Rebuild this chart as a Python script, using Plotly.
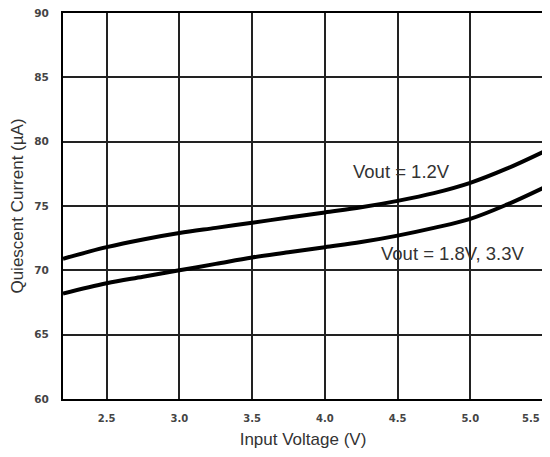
import plotly.graph_objects as go

vin = [2.2, 2.5, 2.75, 3.0, 3.25, 3.5, 3.75, 4.0, 4.25, 4.5, 4.75, 5.0, 5.25, 5.5]
iq_12 = [70.9, 71.8, 72.4, 72.9, 73.3, 73.7, 74.1, 74.5, 74.9, 75.4, 76.0, 76.8, 77.9, 79.2]
iq_18_33 = [68.2, 69.0, 69.5, 70.0, 70.5, 71.0, 71.4, 71.8, 72.2, 72.7, 73.3, 74.0, 75.1, 76.4]
x_ticks = [2.5, 3.0, 3.5, 4.0, 4.5, 5.0, 5.5]
x_tick_labels = ["2.5", "3.0", "3.5", "4.0", "4.5", "5.0", "5.5" + "\u00a0" * 7]
y_ticks = [60, 65, 70, 75, 80, 85, 90]

FONT = "Liberation Sans, Arial, sans-serif"
TICKFONT = "DejaVu Sans, Verdana, sans-serif"
TXT = "#333"

fig = go.Figure()
fig.add_trace(go.Scatter(x=vin, y=iq_12, mode="lines", line=dict(color="black", width=4, shape="spline"), name="Vout = 1.2V"))
fig.add_trace(go.Scatter(x=vin, y=iq_18_33, mode="lines", line=dict(color="black", width=4, shape="spline"), name="Vout = 1.8V, 3.3V"))

fig.add_annotation(x=4.53, y=77.7, xref="x", yref="y", text="Vout = 1.2V", showarrow=False, xanchor="center",
                   font=dict(family=FONT, size=18.5, color=TXT))
fig.add_annotation(x=4.88, y=71.3, xref="x", yref="y", text="Vout = 1.8V, 3.3V", showarrow=False, xanchor="center",
                   font=dict(family=FONT, size=18.5, color=TXT))

fig.update_layout(
    width=542, height=441,
    margin=dict(l=55, r=7, t=5, b=50),
    paper_bgcolor="white", plot_bgcolor="white",
    showlegend=False,
    font=dict(family=FONT, color=TXT),
)
fig.update_xaxes(
    range=[2.2, 5.5], tickvals=x_ticks, ticktext=x_tick_labels,
    showgrid=True, gridcolor="#222", gridwidth=1.5,
    showline=True, linecolor="black", linewidth=2, mirror=True,
    tickfont=dict(family=TICKFONT, size=10, color="#444", weight="bold"), ticks="", ticklabelstandoff=9,
    ticklabeloverflow="allow",
    title=dict(text="Input Voltage (V)", font=dict(family=FONT, size=17, color=TXT), standoff=10),
    zeroline=False, automargin=False,
)
fig.update_yaxes(
    range=[60, 90], tickvals=y_ticks,
    showgrid=True, gridcolor="#222", gridwidth=1.5,
    showline=True, linecolor="black", linewidth=2, mirror=True,
    tickfont=dict(family=TICKFONT, size=10.5, color="#444", weight="bold"), ticks="", ticklabelstandoff=10,
    ticklabeloverflow="allow",
    title=dict(text="Quiescent Current (µA)", font=dict(family=FONT, size=17, color=TXT), standoff=10),
    zeroline=False, automargin=False,
)

fig.write_html("out.html")
